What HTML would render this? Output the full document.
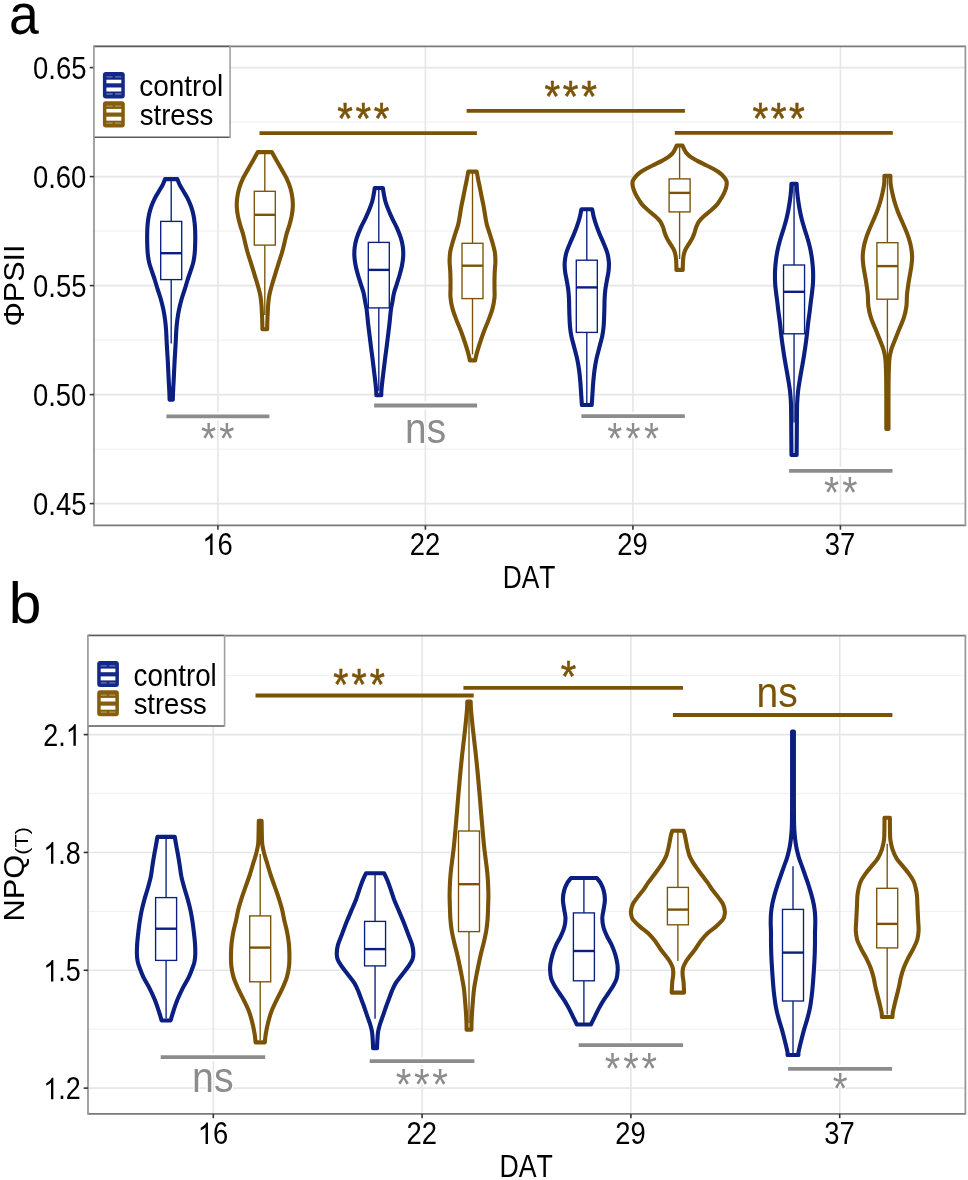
<!DOCTYPE html>
<html><head><meta charset="utf-8"><title>Violin plots</title>
<style>html,body{margin:0;padding:0;background:#fff;overflow:hidden}svg{display:block;will-change:transform}text{font-family:"Liberation Sans",sans-serif}</style>
</head><body>
<svg width="968" height="1180" viewBox="0 0 968 1180" font-family="Liberation Sans, sans-serif" style="font-kerning:none">
<rect width="968" height="1180" fill="#fff"/>
<line x1="94" y1="122.1" x2="965.4" y2="122.1" stroke="#f2f2f2" stroke-width="1.3"/>
<line x1="94" y1="231.1" x2="965.4" y2="231.1" stroke="#f2f2f2" stroke-width="1.3"/>
<line x1="94" y1="340.1" x2="965.4" y2="340.1" stroke="#f2f2f2" stroke-width="1.3"/>
<line x1="94" y1="449.1" x2="965.4" y2="449.1" stroke="#f2f2f2" stroke-width="1.3"/>
<line x1="94" y1="67.6" x2="965.4" y2="67.6" stroke="#e6e6e6" stroke-width="1.6"/>
<line x1="94" y1="176.6" x2="965.4" y2="176.6" stroke="#e6e6e6" stroke-width="1.6"/>
<line x1="94" y1="285.6" x2="965.4" y2="285.6" stroke="#e6e6e6" stroke-width="1.6"/>
<line x1="94" y1="394.6" x2="965.4" y2="394.6" stroke="#e6e6e6" stroke-width="1.6"/>
<line x1="94" y1="503.6" x2="965.4" y2="503.6" stroke="#e6e6e6" stroke-width="1.6"/>
<line x1="217.9" y1="46.4" x2="217.9" y2="525.4" stroke="#e6e6e6" stroke-width="1.6"/>
<line x1="425.4" y1="46.4" x2="425.4" y2="525.4" stroke="#e6e6e6" stroke-width="1.6"/>
<line x1="632.9" y1="46.4" x2="632.9" y2="525.4" stroke="#e6e6e6" stroke-width="1.6"/>
<line x1="840.4" y1="46.4" x2="840.4" y2="525.4" stroke="#e6e6e6" stroke-width="1.6"/>
<path d="M165.1,179.1 C164.72,180.02 163.85,182.53 162.8,184.6 C161.75,186.67 160.13,189.22 158.8,191.5 C157.47,193.78 156.03,195.83 154.8,198.3 C153.57,200.77 152.35,203.63 151.4,206.3 C150.45,208.97 149.72,211.43 149.1,214.3 C148.48,217.17 148.02,220.45 147.7,223.5 C147.38,226.55 147.28,229.37 147.2,232.6 C147.12,235.83 147.12,239.47 147.2,242.9 C147.28,246.33 147.38,249.95 147.7,253.2 C148.02,256.45 148.38,259.35 149.1,262.4 C149.82,265.45 151.02,268.48 152,271.5 C152.98,274.52 154.07,277.55 155,280.5 C155.93,283.45 156.62,286.03 157.6,289.2 C158.58,292.37 159.93,296.08 160.9,299.5 C161.87,302.92 162.7,306.28 163.4,309.7 C164.1,313.12 164.65,316.57 165.1,320 C165.55,323.43 165.85,326.87 166.1,330.3 C166.35,333.73 166.42,337.17 166.6,340.6 C166.78,344.03 167,347.47 167.2,350.9 C167.4,354.33 167.62,357.77 167.8,361.2 C167.98,364.63 168.13,368.07 168.3,371.5 C168.47,374.93 168.63,378.55 168.8,381.8 C168.97,385.05 169.17,388.03 169.3,391 C169.43,393.97 169.55,398.17 169.6,399.6 L172.8,399.6 C172.85,398.17 172.97,393.97 173.1,391 C173.23,388.03 173.43,385.05 173.6,381.8 C173.77,378.55 173.93,374.93 174.1,371.5 C174.27,368.07 174.42,364.63 174.6,361.2 C174.78,357.77 175,354.33 175.2,350.9 C175.4,347.47 175.62,344.03 175.8,340.6 C175.98,337.17 176.05,333.73 176.3,330.3 C176.55,326.87 176.85,323.43 177.3,320 C177.75,316.57 178.3,313.12 179,309.7 C179.7,306.28 180.53,302.92 181.5,299.5 C182.47,296.08 183.82,292.37 184.8,289.2 C185.78,286.03 186.47,283.45 187.4,280.5 C188.33,277.55 189.42,274.52 190.4,271.5 C191.38,268.48 192.58,265.45 193.3,262.4 C194.02,259.35 194.38,256.45 194.7,253.2 C195.02,249.95 195.12,246.33 195.2,242.9 C195.28,239.47 195.28,235.83 195.2,232.6 C195.12,229.37 195.02,226.55 194.7,223.5 C194.38,220.45 193.92,217.17 193.3,214.3 C192.68,211.43 191.95,208.97 191,206.3 C190.05,203.63 188.83,200.77 187.6,198.3 C186.37,195.83 184.93,193.78 183.6,191.5 C182.27,189.22 180.65,186.67 179.6,184.6 C178.55,182.53 177.68,180.02 177.3,179.1 Z" fill="#fff" stroke="#0a1f80" stroke-width="4.1" stroke-linejoin="round"/>
<path d="M257.8,152.1 C257.07,153.4 255,157.08 253.4,159.9 C251.8,162.72 249.92,165.95 248.2,169 C246.48,172.05 244.62,174.95 243.1,178.2 C241.58,181.45 240.1,185.07 239.1,188.5 C238.1,191.93 237.48,195.75 237.1,198.8 C236.72,201.85 236.67,203.95 236.8,206.8 C236.93,209.65 237.33,212.85 237.9,215.9 C238.47,218.95 239.33,222.05 240.2,225.1 C241.07,228.15 242.25,231.15 243.1,234.2 C243.95,237.25 244.55,240.35 245.3,243.4 C246.05,246.45 246.73,249.45 247.6,252.5 C248.47,255.55 249.53,258.63 250.5,261.7 C251.47,264.77 252.63,268.42 253.4,270.9 C254.17,273.38 254.35,274.12 255.1,276.6 C255.85,279.08 257.05,282.75 257.9,285.8 C258.75,288.85 259.62,291.85 260.2,294.9 C260.78,297.95 261.12,301.05 261.4,304.1 C261.68,307.15 261.75,310.15 261.9,313.2 C262.05,316.25 262.22,319.73 262.3,322.4 C262.38,325.07 262.38,328.07 262.4,329.2 L267.2,329.2 C267.22,328.07 267.22,325.07 267.3,322.4 C267.38,319.73 267.55,316.25 267.7,313.2 C267.85,310.15 267.92,307.15 268.2,304.1 C268.48,301.05 268.82,297.95 269.4,294.9 C269.98,291.85 270.85,288.85 271.7,285.8 C272.55,282.75 273.75,279.08 274.5,276.6 C275.25,274.12 275.43,273.38 276.2,270.9 C276.97,268.42 278.13,264.77 279.1,261.7 C280.07,258.63 281.13,255.55 282,252.5 C282.87,249.45 283.55,246.45 284.3,243.4 C285.05,240.35 285.65,237.25 286.5,234.2 C287.35,231.15 288.53,228.15 289.4,225.1 C290.27,222.05 291.13,218.95 291.7,215.9 C292.27,212.85 292.67,209.65 292.8,206.8 C292.93,203.95 292.88,201.85 292.5,198.8 C292.12,195.75 291.5,191.93 290.5,188.5 C289.5,185.07 288.02,181.45 286.5,178.2 C284.98,174.95 283.12,172.05 281.4,169 C279.68,165.95 277.8,162.72 276.2,159.9 C274.6,157.08 272.53,153.4 271.8,152.1 Z" fill="#fff" stroke="#7a5306" stroke-width="4.1" stroke-linejoin="round"/>
<path d="M374.7,188 C374.57,188.9 374.32,191.15 373.9,193.4 C373.48,195.65 372.97,198.82 372.2,201.5 C371.43,204.18 370.45,206.65 369.3,209.5 C368.15,212.35 366.73,215.55 365.3,218.6 C363.87,221.65 362.13,224.55 360.7,227.8 C359.27,231.05 357.7,234.87 356.7,238.1 C355.7,241.33 355.08,244.15 354.7,247.2 C354.32,250.25 354.25,253.35 354.4,256.4 C354.55,259.45 355.02,262.45 355.6,265.5 C356.18,268.55 357.05,271.65 357.9,274.7 C358.75,277.75 359.75,280.75 360.7,283.8 C361.65,286.85 362.85,289.97 363.6,293 C364.35,296.03 364.68,299.17 365.2,302 C365.72,304.83 366.2,306.28 366.7,310 C367.2,313.72 367.72,320 368.2,324.3 C368.68,328.6 369.13,331.98 369.6,335.8 C370.07,339.62 370.52,343.4 371,347.2 C371.48,351 372.02,354.78 372.5,358.6 C372.98,362.42 373.43,366.28 373.9,370.1 C374.37,373.92 374.92,378.07 375.3,381.5 C375.68,384.93 376.03,388.4 376.2,390.7 C376.37,393 376.28,394.53 376.3,395.3 L381.3,395.3 C381.32,394.53 381.23,393 381.4,390.7 C381.57,388.4 381.92,384.93 382.3,381.5 C382.68,378.07 383.23,373.92 383.7,370.1 C384.17,366.28 384.62,362.42 385.1,358.6 C385.58,354.78 386.12,351 386.6,347.2 C387.08,343.4 387.53,339.62 388,335.8 C388.47,331.98 388.92,328.6 389.4,324.3 C389.88,320 390.4,313.72 390.9,310 C391.4,306.28 391.88,304.83 392.4,302 C392.92,299.17 393.25,296.03 394,293 C394.75,289.97 395.95,286.85 396.9,283.8 C397.85,280.75 398.85,277.75 399.7,274.7 C400.55,271.65 401.42,268.55 402,265.5 C402.58,262.45 403.05,259.45 403.2,256.4 C403.35,253.35 403.28,250.25 402.9,247.2 C402.52,244.15 401.9,241.33 400.9,238.1 C399.9,234.87 398.33,231.05 396.9,227.8 C395.47,224.55 393.73,221.65 392.3,218.6 C390.87,215.55 389.45,212.35 388.3,209.5 C387.15,206.65 386.17,204.18 385.4,201.5 C384.63,198.82 384.12,195.65 383.7,193.4 C383.28,191.15 383.03,188.9 382.9,188 Z" fill="#fff" stroke="#0a1f80" stroke-width="4.1" stroke-linejoin="round"/>
<path d="M468.3,171.6 C468.08,172.78 467.53,175.98 467,178.7 C466.47,181.42 465.72,184.85 465.1,187.9 C464.48,190.95 463.92,193.95 463.3,197 C462.68,200.05 461.97,203.15 461.4,206.2 C460.83,209.25 460.43,212.25 459.9,215.3 C459.37,218.35 458.97,221.45 458.2,224.5 C457.43,227.55 456.25,230.55 455.3,233.6 C454.35,236.65 453.35,239.73 452.5,242.8 C451.65,245.87 450.68,248.88 450.2,252 C449.72,255.12 449.6,258.45 449.6,261.5 C449.6,264.55 450.05,267.32 450.2,270.3 C450.35,273.28 450.45,276.35 450.5,279.4 C450.55,282.45 450.5,285.58 450.5,288.6 C450.5,291.62 450.17,294.17 450.5,297.5 C450.83,300.83 451.5,304.83 452.5,308.6 C453.5,312.37 455.07,316.28 456.5,320.1 C457.93,323.92 459.67,327.68 461.1,331.5 C462.53,335.32 463.97,339.57 465.1,343 C466.23,346.43 467.15,349.43 467.9,352.1 C468.65,354.77 469.28,357.62 469.6,359 C469.92,360.38 469.77,360.17 469.8,360.4 L475.2,360.4 C475.23,360.17 475.08,360.38 475.4,359 C475.72,357.62 476.35,354.77 477.1,352.1 C477.85,349.43 478.77,346.43 479.9,343 C481.03,339.57 482.47,335.32 483.9,331.5 C485.33,327.68 487.07,323.92 488.5,320.1 C489.93,316.28 491.5,312.37 492.5,308.6 C493.5,304.83 494.17,300.83 494.5,297.5 C494.83,294.17 494.5,291.62 494.5,288.6 C494.5,285.58 494.45,282.45 494.5,279.4 C494.55,276.35 494.65,273.28 494.8,270.3 C494.95,267.32 495.4,264.55 495.4,261.5 C495.4,258.45 495.28,255.12 494.8,252 C494.32,248.88 493.35,245.87 492.5,242.8 C491.65,239.73 490.65,236.65 489.7,233.6 C488.75,230.55 487.57,227.55 486.8,224.5 C486.03,221.45 485.63,218.35 485.1,215.3 C484.57,212.25 484.17,209.25 483.6,206.2 C483.03,203.15 482.32,200.05 481.7,197 C481.08,193.95 480.52,190.95 479.9,187.9 C479.28,184.85 478.53,181.42 478,178.7 C477.47,175.98 476.92,172.78 476.7,171.6 Z" fill="#fff" stroke="#7a5306" stroke-width="4.1" stroke-linejoin="round"/>
<path d="M581.4,209.3 C581.15,210.53 580.62,213.93 579.9,216.7 C579.18,219.47 578.15,222.85 577.1,225.9 C576.05,228.95 574.85,231.95 573.6,235 C572.35,238.05 570.83,241.15 569.6,244.2 C568.37,247.25 567.02,250.25 566.2,253.3 C565.38,256.35 564.88,259.45 564.7,262.5 C564.52,265.55 564.75,268.55 565.1,271.6 C565.45,274.65 566.27,277.73 566.8,280.8 C567.33,283.87 567.93,286.95 568.3,290 C568.67,293.05 568.85,296.05 569,299.1 C569.15,302.15 569.12,305.25 569.2,308.3 C569.28,311.35 569.37,314.35 569.5,317.4 C569.63,320.45 569.7,323.53 570,326.6 C570.3,329.67 570.6,332.37 571.3,335.8 C572,339.23 573.23,343.4 574.2,347.2 C575.17,351 576.28,354.78 577.1,358.6 C577.92,362.42 578.57,366.28 579.1,370.1 C579.63,373.92 579.97,377.68 580.3,381.5 C580.63,385.32 580.87,389.57 581.1,393 C581.33,396.43 581.57,400.1 581.7,402.1 C581.83,404.1 581.87,404.52 581.9,405 L591.7,405 C591.73,404.52 591.77,404.1 591.9,402.1 C592.03,400.1 592.27,396.43 592.5,393 C592.73,389.57 592.97,385.32 593.3,381.5 C593.63,377.68 593.97,373.92 594.5,370.1 C595.03,366.28 595.68,362.42 596.5,358.6 C597.32,354.78 598.43,351 599.4,347.2 C600.37,343.4 601.6,339.23 602.3,335.8 C603,332.37 603.3,329.67 603.6,326.6 C603.9,323.53 603.97,320.45 604.1,317.4 C604.23,314.35 604.32,311.35 604.4,308.3 C604.48,305.25 604.45,302.15 604.6,299.1 C604.75,296.05 604.93,293.05 605.3,290 C605.67,286.95 606.27,283.87 606.8,280.8 C607.33,277.73 608.15,274.65 608.5,271.6 C608.85,268.55 609.08,265.55 608.9,262.5 C608.72,259.45 608.22,256.35 607.4,253.3 C606.58,250.25 605.23,247.25 604,244.2 C602.77,241.15 601.25,238.05 600,235 C598.75,231.95 597.55,228.95 596.5,225.9 C595.45,222.85 594.42,219.47 593.7,216.7 C592.98,213.93 592.45,210.53 592.2,209.3 Z" fill="#fff" stroke="#0a1f80" stroke-width="4.1" stroke-linejoin="round"/>
<path d="M676.7,145.5 C676.42,146.12 675.67,147.92 675,149.2 C674.33,150.48 673.83,151.87 672.7,153.2 C671.57,154.53 669.92,155.97 668.2,157.2 C666.48,158.43 664.7,159.37 662.4,160.6 C660.1,161.83 656.87,163.37 654.4,164.6 C651.93,165.83 649.88,166.77 647.6,168 C645.32,169.23 642.7,170.57 640.7,172 C638.7,173.43 636.93,175.07 635.6,176.6 C634.27,178.13 633.18,179.67 632.7,181.2 C632.22,182.73 632.42,184.08 632.7,185.8 C632.98,187.52 633.63,189.6 634.4,191.5 C635.17,193.4 636.07,195.1 637.3,197.2 C638.53,199.3 640.08,202 641.8,204.1 C643.52,206.2 645.5,207.9 647.6,209.8 C649.7,211.7 652.32,213.6 654.4,215.5 C656.48,217.4 658.67,219.28 660.1,221.2 C661.53,223.12 662.23,225.08 663,227 C663.77,228.92 664.03,230.8 664.7,232.7 C665.37,234.6 666.05,236.5 667,238.4 C667.95,240.3 669.25,242.2 670.4,244.1 C671.55,246 673.03,247.88 673.9,249.8 C674.77,251.72 675.22,253.68 675.6,255.6 C675.98,257.52 676.07,259.4 676.2,261.3 C676.33,263.2 676.37,265.57 676.4,267 C676.43,268.43 676.4,269.42 676.4,269.9 L682.8,269.9 C682.8,269.42 682.77,268.43 682.8,267 C682.83,265.57 682.87,263.2 683,261.3 C683.13,259.4 683.22,257.52 683.6,255.6 C683.98,253.68 684.43,251.72 685.3,249.8 C686.17,247.88 687.65,246 688.8,244.1 C689.95,242.2 691.25,240.3 692.2,238.4 C693.15,236.5 693.83,234.6 694.5,232.7 C695.17,230.8 695.43,228.92 696.2,227 C696.97,225.08 697.67,223.12 699.1,221.2 C700.53,219.28 702.72,217.4 704.8,215.5 C706.88,213.6 709.5,211.7 711.6,209.8 C713.7,207.9 715.68,206.2 717.4,204.1 C719.12,202 720.67,199.3 721.9,197.2 C723.13,195.1 724.03,193.4 724.8,191.5 C725.57,189.6 726.22,187.52 726.5,185.8 C726.78,184.08 726.98,182.73 726.5,181.2 C726.02,179.67 724.93,178.13 723.6,176.6 C722.27,175.07 720.5,173.43 718.5,172 C716.5,170.57 713.88,169.23 711.6,168 C709.32,166.77 707.27,165.83 704.8,164.6 C702.33,163.37 699.1,161.83 696.8,160.6 C694.5,159.37 692.72,158.43 691,157.2 C689.28,155.97 687.63,154.53 686.5,153.2 C685.37,151.87 684.87,150.48 684.2,149.2 C683.53,147.92 682.78,146.12 682.5,145.5 Z" fill="#fff" stroke="#7a5306" stroke-width="4.1" stroke-linejoin="round"/>
<path d="M791.45,183.7 C791.37,185.03 791.22,188.83 790.95,191.7 C790.68,194.57 790.28,197.85 789.85,200.9 C789.42,203.95 788.93,206.95 788.35,210 C787.77,213.05 787.12,216.15 786.35,219.2 C785.58,222.25 784.67,225.25 783.75,228.3 C782.83,231.35 781.75,234.45 780.85,237.5 C779.95,240.55 779.07,243.55 778.35,246.6 C777.63,249.65 777.03,252.73 776.55,255.8 C776.07,258.87 775.72,261.95 775.45,265 C775.18,268.05 775,271.05 774.95,274.1 C774.9,277.15 774.97,280.25 775.15,283.3 C775.33,286.35 775.7,289.35 776.05,292.4 C776.4,295.45 776.87,298.5 777.25,301.6 C777.63,304.7 777.9,307.45 778.35,311 C778.8,314.55 779.48,319.02 779.95,322.9 C780.42,326.78 780.7,330.48 781.15,334.3 C781.6,338.12 782.12,341.98 782.65,345.8 C783.18,349.62 783.73,353.4 784.35,357.2 C784.97,361 785.68,364.78 786.35,368.6 C787.02,372.42 787.73,376.28 788.35,380.1 C788.97,383.92 789.62,387.68 790.05,391.5 C790.48,395.32 790.77,399.18 790.95,403 C791.13,406.82 791.1,410.58 791.15,414.4 C791.2,418.22 791.22,421.63 791.25,425.9 C791.28,430.17 791.32,435.57 791.35,440 C791.38,444.43 791.43,450 791.45,452.5 C791.47,455 791.45,454.58 791.45,455 L796.65,455 C796.65,454.58 796.63,455 796.65,452.5 C796.67,450 796.72,444.43 796.75,440 C796.78,435.57 796.82,430.17 796.85,425.9 C796.88,421.63 796.9,418.22 796.95,414.4 C797,410.58 796.97,406.82 797.15,403 C797.33,399.18 797.62,395.32 798.05,391.5 C798.48,387.68 799.13,383.92 799.75,380.1 C800.37,376.28 801.08,372.42 801.75,368.6 C802.42,364.78 803.13,361 803.75,357.2 C804.37,353.4 804.92,349.62 805.45,345.8 C805.98,341.98 806.5,338.12 806.95,334.3 C807.4,330.48 807.68,326.78 808.15,322.9 C808.62,319.02 809.3,314.55 809.75,311 C810.2,307.45 810.47,304.7 810.85,301.6 C811.23,298.5 811.7,295.45 812.05,292.4 C812.4,289.35 812.77,286.35 812.95,283.3 C813.13,280.25 813.2,277.15 813.15,274.1 C813.1,271.05 812.92,268.05 812.65,265 C812.38,261.95 812.03,258.87 811.55,255.8 C811.07,252.73 810.47,249.65 809.75,246.6 C809.03,243.55 808.15,240.55 807.25,237.5 C806.35,234.45 805.27,231.35 804.35,228.3 C803.43,225.25 802.52,222.25 801.75,219.2 C800.98,216.15 800.33,213.05 799.75,210 C799.17,206.95 798.68,203.95 798.25,200.9 C797.82,197.85 797.42,194.57 797.15,191.7 C796.88,188.83 796.73,185.03 796.65,183.7 Z" fill="#fff" stroke="#0a1f80" stroke-width="4.1" stroke-linejoin="round"/>
<path d="M884.4,175.9 C884.37,177.2 884.52,180.87 884.2,183.7 C883.88,186.53 883.17,189.85 882.5,192.9 C881.83,195.95 881.1,198.95 880.2,202 C879.3,205.05 878.25,208.15 877.1,211.2 C875.95,214.25 874.6,217.25 873.3,220.3 C872,223.35 870.53,226.45 869.3,229.5 C868.07,232.55 866.85,235.55 865.9,238.6 C864.95,241.65 864.13,244.73 863.6,247.8 C863.07,250.87 862.73,253.95 862.7,257 C862.67,260.05 863.02,263.05 863.4,266.1 C863.78,269.15 864.48,272.25 865,275.3 C865.52,278.35 866.03,281.2 866.5,284.4 C866.97,287.6 867.48,290.83 867.8,294.5 C868.12,298.17 867.87,302.5 868.4,306.4 C868.93,310.3 869.8,314.08 871,317.9 C872.2,321.72 874.07,325.48 875.6,329.3 C877.13,333.12 878.87,337.37 880.2,340.8 C881.53,344.23 882.73,346.85 883.6,349.9 C884.47,352.95 884.98,354.9 885.4,359.1 C885.82,363.3 885.95,368.62 886.1,375.1 C886.25,381.58 886.27,390.37 886.3,398 C886.33,405.63 886.3,415.73 886.3,420.9 C886.3,426.07 886.3,427.65 886.3,429 L888.5,429 C888.5,427.65 888.5,426.07 888.5,420.9 C888.5,415.73 888.47,405.63 888.5,398 C888.53,390.37 888.55,381.58 888.7,375.1 C888.85,368.62 888.98,363.3 889.4,359.1 C889.82,354.9 890.33,352.95 891.2,349.9 C892.07,346.85 893.27,344.23 894.6,340.8 C895.93,337.37 897.67,333.12 899.2,329.3 C900.73,325.48 902.6,321.72 903.8,317.9 C905,314.08 905.87,310.3 906.4,306.4 C906.93,302.5 906.68,298.17 907,294.5 C907.32,290.83 907.83,287.6 908.3,284.4 C908.77,281.2 909.28,278.35 909.8,275.3 C910.32,272.25 911.02,269.15 911.4,266.1 C911.78,263.05 912.13,260.05 912.1,257 C912.07,253.95 911.73,250.87 911.2,247.8 C910.67,244.73 909.85,241.65 908.9,238.6 C907.95,235.55 906.73,232.55 905.5,229.5 C904.27,226.45 902.8,223.35 901.5,220.3 C900.2,217.25 898.85,214.25 897.7,211.2 C896.55,208.15 895.5,205.05 894.6,202 C893.7,198.95 892.97,195.95 892.3,192.9 C891.63,189.85 890.92,186.53 890.6,183.7 C890.28,180.87 890.43,177.2 890.4,175.9 Z" fill="#fff" stroke="#7a5306" stroke-width="4.1" stroke-linejoin="round"/>
<line x1="171.2" y1="179.1" x2="171.2" y2="221.4" stroke="#0a1f80" stroke-width="1.35"/>
<line x1="171.2" y1="279.6" x2="171.2" y2="343.5" stroke="#0a1f80" stroke-width="1.35"/>
<rect x="160.7" y="221.4" width="21" height="58.2" fill="#fff" stroke="#0a1f80" stroke-width="1.35"/>
<line x1="160.7" y1="253.2" x2="181.7" y2="253.2" stroke="#0a1f80" stroke-width="2.4"/>
<line x1="264.8" y1="152.1" x2="264.8" y2="191.3" stroke="#7a5306" stroke-width="1.35"/>
<line x1="264.8" y1="245.1" x2="264.8" y2="315" stroke="#7a5306" stroke-width="1.35"/>
<rect x="254.3" y="191.3" width="21" height="53.8" fill="#fff" stroke="#7a5306" stroke-width="1.35"/>
<line x1="254.3" y1="214.8" x2="275.3" y2="214.8" stroke="#7a5306" stroke-width="2.4"/>
<line x1="378.8" y1="188" x2="378.8" y2="242.4" stroke="#0a1f80" stroke-width="1.35"/>
<line x1="378.8" y1="307.9" x2="378.8" y2="390.7" stroke="#0a1f80" stroke-width="1.35"/>
<rect x="368.3" y="242.4" width="21" height="65.5" fill="#fff" stroke="#0a1f80" stroke-width="1.35"/>
<line x1="368.3" y1="269.9" x2="389.3" y2="269.9" stroke="#0a1f80" stroke-width="2.4"/>
<line x1="472.5" y1="171.6" x2="472.5" y2="243.3" stroke="#7a5306" stroke-width="1.35"/>
<line x1="472.5" y1="298.6" x2="472.5" y2="354.4" stroke="#7a5306" stroke-width="1.35"/>
<rect x="462" y="243.3" width="21" height="55.3" fill="#fff" stroke="#7a5306" stroke-width="1.35"/>
<line x1="462" y1="265.7" x2="483" y2="265.7" stroke="#7a5306" stroke-width="2.4"/>
<line x1="586.8" y1="209.3" x2="586.8" y2="260.2" stroke="#0a1f80" stroke-width="1.35"/>
<line x1="586.8" y1="332.4" x2="586.8" y2="403.3" stroke="#0a1f80" stroke-width="1.35"/>
<rect x="576.3" y="260.2" width="21" height="72.2" fill="#fff" stroke="#0a1f80" stroke-width="1.35"/>
<line x1="576.3" y1="287.4" x2="597.3" y2="287.4" stroke="#0a1f80" stroke-width="2.4"/>
<line x1="679.6" y1="145.5" x2="679.6" y2="178.9" stroke="#7a5306" stroke-width="1.35"/>
<line x1="679.6" y1="211.9" x2="679.6" y2="259" stroke="#7a5306" stroke-width="1.35"/>
<rect x="669.1" y="178.9" width="21" height="33" fill="#fff" stroke="#7a5306" stroke-width="1.35"/>
<line x1="669.1" y1="192.9" x2="690.1" y2="192.9" stroke="#7a5306" stroke-width="2.4"/>
<line x1="794.05" y1="183.7" x2="794.05" y2="265" stroke="#0a1f80" stroke-width="1.35"/>
<line x1="794.05" y1="333.8" x2="794.05" y2="422.4" stroke="#0a1f80" stroke-width="1.35"/>
<rect x="783.55" y="265" width="21" height="68.8" fill="#fff" stroke="#0a1f80" stroke-width="1.35"/>
<line x1="783.55" y1="291.8" x2="804.55" y2="291.8" stroke="#0a1f80" stroke-width="2.4"/>
<line x1="887.4" y1="175.9" x2="887.4" y2="242.7" stroke="#7a5306" stroke-width="1.35"/>
<line x1="887.4" y1="299.2" x2="887.4" y2="428" stroke="#7a5306" stroke-width="1.35"/>
<rect x="876.9" y="242.7" width="21" height="56.5" fill="#fff" stroke="#7a5306" stroke-width="1.35"/>
<line x1="876.9" y1="266.1" x2="897.9" y2="266.1" stroke="#7a5306" stroke-width="2.4"/>
<line x1="164.4" y1="416.4" x2="271.4" y2="416.4" stroke="#fff" stroke-width="8"/>
<line x1="372.1" y1="405.5" x2="479.1" y2="405.5" stroke="#fff" stroke-width="8"/>
<line x1="579.4" y1="416.2" x2="686.8" y2="416.2" stroke="#fff" stroke-width="8"/>
<line x1="787.1" y1="470.8" x2="894.5" y2="470.8" stroke="#fff" stroke-width="8"/>
<line x1="259.5" y1="133.2" x2="476.9" y2="133.2" stroke="#7a5306" stroke-width="3.8"/>
<line x1="466.6" y1="110.8" x2="684.9" y2="110.8" stroke="#7a5306" stroke-width="3.8"/>
<line x1="674.8" y1="132.8" x2="892.8" y2="132.8" stroke="#7a5306" stroke-width="3.8"/>
<line x1="166.4" y1="416.4" x2="269.4" y2="416.4" stroke="#8c8c8c" stroke-width="3.8"/>
<line x1="374.1" y1="405.5" x2="477.1" y2="405.5" stroke="#8c8c8c" stroke-width="3.8"/>
<line x1="581.4" y1="416.2" x2="684.8" y2="416.2" stroke="#8c8c8c" stroke-width="3.8"/>
<line x1="789.1" y1="470.8" x2="892.5" y2="470.8" stroke="#8c8c8c" stroke-width="3.8"/>
<path d="M94,46.4H965.4M94,525.4H965.4" stroke="#7a7a7a" stroke-width="1.6"/>
<path d="M94,45.6V526.1999999999999M965.4,45.6V526.1999999999999" stroke="#999" stroke-width="1.8"/>
<line x1="89.7" y1="67.6" x2="94" y2="67.6" stroke="#333" stroke-width="1.6"/>
<line x1="89.7" y1="176.6" x2="94" y2="176.6" stroke="#333" stroke-width="1.6"/>
<line x1="89.7" y1="285.6" x2="94" y2="285.6" stroke="#333" stroke-width="1.6"/>
<line x1="89.7" y1="394.6" x2="94" y2="394.6" stroke="#333" stroke-width="1.6"/>
<line x1="89.7" y1="503.6" x2="94" y2="503.6" stroke="#333" stroke-width="1.6"/>
<line x1="217.9" y1="525.4" x2="217.9" y2="529.6999999999999" stroke="#333" stroke-width="1.6"/>
<line x1="425.4" y1="525.4" x2="425.4" y2="529.6999999999999" stroke="#333" stroke-width="1.6"/>
<line x1="632.9" y1="525.4" x2="632.9" y2="529.6999999999999" stroke="#333" stroke-width="1.6"/>
<line x1="840.4" y1="525.4" x2="840.4" y2="529.6999999999999" stroke="#333" stroke-width="1.6"/>
<line x1="88" y1="675.68" x2="965.4" y2="675.68" stroke="#f2f2f2" stroke-width="1.3"/>
<line x1="88" y1="793.52" x2="965.4" y2="793.52" stroke="#f2f2f2" stroke-width="1.3"/>
<line x1="88" y1="911.36" x2="965.4" y2="911.36" stroke="#f2f2f2" stroke-width="1.3"/>
<line x1="88" y1="1029.2" x2="965.4" y2="1029.2" stroke="#f2f2f2" stroke-width="1.3"/>
<line x1="88" y1="734.6" x2="965.4" y2="734.6" stroke="#e6e6e6" stroke-width="1.6"/>
<line x1="88" y1="852.44" x2="965.4" y2="852.44" stroke="#e6e6e6" stroke-width="1.6"/>
<line x1="88" y1="970.28" x2="965.4" y2="970.28" stroke="#e6e6e6" stroke-width="1.6"/>
<line x1="88" y1="1088.12" x2="965.4" y2="1088.12" stroke="#e6e6e6" stroke-width="1.6"/>
<line x1="213.3" y1="635.6" x2="213.3" y2="1113.9" stroke="#e6e6e6" stroke-width="1.6"/>
<line x1="422.1" y1="635.6" x2="422.1" y2="1113.9" stroke="#e6e6e6" stroke-width="1.6"/>
<line x1="630.9" y1="635.6" x2="630.9" y2="1113.9" stroke="#e6e6e6" stroke-width="1.6"/>
<line x1="839.7" y1="635.6" x2="839.7" y2="1113.9" stroke="#e6e6e6" stroke-width="1.6"/>
<path d="M157.4,836.9 C157.17,838.28 156.52,842.3 156,845.2 C155.48,848.1 154.87,851.07 154.3,854.3 C153.73,857.53 153.17,860.97 152.6,864.6 C152.03,868.23 151.67,872.28 150.9,876.1 C150.13,879.92 149.05,883.7 148,887.5 C146.95,891.3 145.65,895.08 144.6,898.9 C143.55,902.72 142.5,906.72 141.7,910.4 C140.9,914.08 140.37,917.32 139.8,921 C139.23,924.68 138.73,928.75 138.3,932.5 C137.87,936.25 137.43,939.92 137.2,943.5 C136.97,947.08 136.83,951.08 136.9,954 C136.97,956.92 137.27,959.03 137.6,961 C137.93,962.97 137.93,963.1 138.9,965.8 C139.87,968.5 141.6,973.4 143.4,977.2 C145.2,981 147.78,984.78 149.7,988.6 C151.62,992.42 153.37,996.28 154.9,1000.1 C156.43,1003.92 157.78,1008.1 158.9,1011.5 C160.02,1014.9 161.15,1019 161.6,1020.5 L170.6,1020.5 C171.05,1019 172.18,1014.9 173.3,1011.5 C174.42,1008.1 175.77,1003.92 177.3,1000.1 C178.83,996.28 180.58,992.42 182.5,988.6 C184.42,984.78 187,981 188.8,977.2 C190.6,973.4 192.33,968.5 193.3,965.8 C194.27,963.1 194.27,962.97 194.6,961 C194.93,959.03 195.23,956.92 195.3,954 C195.37,951.08 195.23,947.08 195,943.5 C194.77,939.92 194.33,936.25 193.9,932.5 C193.47,928.75 192.97,924.68 192.4,921 C191.83,917.32 191.3,914.08 190.5,910.4 C189.7,906.72 188.65,902.72 187.6,898.9 C186.55,895.08 185.25,891.3 184.2,887.5 C183.15,883.7 182.07,879.92 181.3,876.1 C180.53,872.28 180.17,868.23 179.6,864.6 C179.03,860.97 178.47,857.53 177.9,854.3 C177.33,851.07 176.72,848.1 176.2,845.2 C175.68,842.3 175.03,838.28 174.8,836.9 Z" fill="#fff" stroke="#0a1f80" stroke-width="4.1" stroke-linejoin="round"/>
<path d="M258.8,820.7 C258.77,822.62 258.7,828.38 258.6,832.2 C258.5,836.02 258.57,840.17 258.2,843.6 C257.83,847.03 257.22,849.57 256.4,852.8 C255.58,856.03 254.38,859.38 253.3,863 C252.22,866.62 251.13,870.68 249.9,874.5 C248.67,878.32 247.23,882.08 245.9,885.9 C244.57,889.72 243.13,893.58 241.9,897.4 C240.67,901.22 239.47,905 238.5,908.8 C237.53,912.6 236.95,916.4 236.1,920.2 C235.25,924 234.15,927.8 233.4,931.6 C232.65,935.4 232,939.22 231.6,943 C231.2,946.78 231.05,950.5 231,954.3 C230.95,958.1 230.88,961.98 231.3,965.8 C231.72,969.62 232.37,973.4 233.5,977.2 C234.63,981 236.38,984.78 238.1,988.6 C239.82,992.42 241.98,996.28 243.8,1000.1 C245.62,1003.92 247.57,1007.68 249,1011.5 C250.43,1015.32 251.45,1019.18 252.4,1023 C253.35,1026.82 254.17,1031.17 254.7,1034.4 C255.23,1037.63 255.45,1041.07 255.6,1042.4 L264.8,1042.4 C264.95,1041.07 265.17,1037.63 265.7,1034.4 C266.23,1031.17 267.05,1026.82 268,1023 C268.95,1019.18 269.97,1015.32 271.4,1011.5 C272.83,1007.68 274.78,1003.92 276.6,1000.1 C278.42,996.28 280.58,992.42 282.3,988.6 C284.02,984.78 285.77,981 286.9,977.2 C288.03,973.4 288.68,969.62 289.1,965.8 C289.52,961.98 289.45,958.1 289.4,954.3 C289.35,950.5 289.2,946.78 288.8,943 C288.4,939.22 287.75,935.4 287,931.6 C286.25,927.8 285.15,924 284.3,920.2 C283.45,916.4 282.87,912.6 281.9,908.8 C280.93,905 279.73,901.22 278.5,897.4 C277.27,893.58 275.83,889.72 274.5,885.9 C273.17,882.08 271.73,878.32 270.5,874.5 C269.27,870.68 268.18,866.62 267.1,863 C266.02,859.38 264.82,856.03 264,852.8 C263.18,849.57 262.57,847.03 262.2,843.6 C261.83,840.17 261.9,836.02 261.8,832.2 C261.7,828.38 261.63,822.62 261.6,820.7 Z" fill="#fff" stroke="#7a5306" stroke-width="4.1" stroke-linejoin="round"/>
<path d="M365.96,873.3 C365.41,874.5 363.83,877.58 362.66,880.5 C361.49,883.42 360.04,887.68 358.96,890.8 C357.88,893.92 357.41,895.93 356.16,899.2 C354.91,902.47 353.03,906.67 351.46,910.4 C349.89,914.13 348.31,917.72 346.76,921.6 C345.21,925.48 343.63,929.82 342.16,933.7 C340.69,937.58 338.86,941.63 337.96,944.9 C337.06,948.17 336.81,950.87 336.76,953.3 C336.71,955.73 336.88,957.38 337.66,959.5 C338.44,961.62 339.63,963.35 341.46,966 C343.29,968.65 346.53,972.58 348.66,975.4 C350.79,978.22 352.71,980.4 354.26,982.9 C355.81,985.4 356.88,987.92 357.96,990.4 C359.04,992.88 359.83,995.32 360.76,997.8 C361.69,1000.28 362.56,1002.5 363.56,1005.3 C364.56,1008.1 365.68,1011.48 366.76,1014.6 C367.84,1017.72 369.19,1021.2 370.06,1024 C370.93,1026.8 371.53,1028.92 371.96,1031.4 C372.39,1033.88 372.48,1036.42 372.66,1038.9 C372.84,1041.38 372.99,1044.75 373.06,1046.3 C373.13,1047.85 373.06,1047.88 373.06,1048.2 L377.06,1048.2 C377.06,1047.88 376.99,1047.85 377.06,1046.3 C377.13,1044.75 377.28,1041.38 377.46,1038.9 C377.64,1036.42 377.73,1033.88 378.16,1031.4 C378.59,1028.92 379.19,1026.8 380.06,1024 C380.93,1021.2 382.28,1017.72 383.36,1014.6 C384.44,1011.48 385.56,1008.1 386.56,1005.3 C387.56,1002.5 388.43,1000.28 389.36,997.8 C390.29,995.32 391.08,992.88 392.16,990.4 C393.24,987.92 394.31,985.4 395.86,982.9 C397.41,980.4 399.33,978.22 401.46,975.4 C403.59,972.58 406.83,968.65 408.66,966 C410.49,963.35 411.68,961.62 412.46,959.5 C413.24,957.38 413.41,955.73 413.36,953.3 C413.31,950.87 413.06,948.17 412.16,944.9 C411.26,941.63 409.43,937.58 407.96,933.7 C406.49,929.82 404.91,925.48 403.36,921.6 C401.81,917.72 400.23,914.13 398.66,910.4 C397.09,906.67 395.21,902.47 393.96,899.2 C392.71,895.93 392.24,893.92 391.16,890.8 C390.08,887.68 388.63,883.42 387.46,880.5 C386.29,877.58 384.71,874.5 384.16,873.3 Z" fill="#fff" stroke="#0a1f80" stroke-width="4.1" stroke-linejoin="round"/>
<path d="M467.3,701.5 C467.25,702.82 467.4,704.48 467,709.4 C466.6,714.32 465.67,723.8 464.9,731 C464.13,738.2 463.18,745.38 462.4,752.6 C461.62,759.82 460.88,767.08 460.2,774.3 C459.52,781.52 458.92,788.7 458.3,795.9 C457.68,803.1 457.12,810.3 456.5,817.5 C455.88,824.7 455.1,833.68 454.6,839.1 C454.1,844.52 453.92,846.35 453.5,850 C453.08,853.65 452.57,857.18 452.1,861 C451.63,864.82 451.07,869.02 450.7,872.9 C450.33,876.78 450.08,880.48 449.9,884.3 C449.72,888.12 449.6,891.98 449.6,895.8 C449.6,899.62 449.77,903.33 449.9,907.2 C450.03,911.07 450.1,915.12 450.4,919 C450.7,922.88 451.08,926.67 451.7,930.5 C452.32,934.33 453.22,938.17 454.1,942 C454.98,945.83 456.1,949.67 457,953.5 C457.9,957.33 458.7,961.17 459.5,965 C460.3,968.83 461.07,972.57 461.8,976.5 C462.53,980.43 463.37,984.67 463.9,988.6 C464.43,992.53 464.67,996.28 465,1000.1 C465.33,1003.92 465.65,1007.68 465.9,1011.5 C466.15,1015.32 466.38,1019.95 466.5,1023 C466.62,1026.05 466.58,1028.67 466.6,1029.8 L471.4,1029.8 C471.42,1028.67 471.38,1026.05 471.5,1023 C471.62,1019.95 471.85,1015.32 472.1,1011.5 C472.35,1007.68 472.67,1003.92 473,1000.1 C473.33,996.28 473.57,992.53 474.1,988.6 C474.63,984.67 475.47,980.43 476.2,976.5 C476.93,972.57 477.7,968.83 478.5,965 C479.3,961.17 480.1,957.33 481,953.5 C481.9,949.67 483.02,945.83 483.9,942 C484.78,938.17 485.68,934.33 486.3,930.5 C486.92,926.67 487.3,922.88 487.6,919 C487.9,915.12 487.97,911.07 488.1,907.2 C488.23,903.33 488.4,899.62 488.4,895.8 C488.4,891.98 488.28,888.12 488.1,884.3 C487.92,880.48 487.67,876.78 487.3,872.9 C486.93,869.02 486.37,864.82 485.9,861 C485.43,857.18 484.92,853.65 484.5,850 C484.08,846.35 483.9,844.52 483.4,839.1 C482.9,833.68 482.12,824.7 481.5,817.5 C480.88,810.3 480.32,803.1 479.7,795.9 C479.08,788.7 478.48,781.52 477.8,774.3 C477.12,767.08 476.38,759.82 475.6,752.6 C474.82,745.38 473.87,738.2 473.1,731 C472.33,723.8 471.4,714.32 471,709.4 C470.6,704.48 470.75,702.82 470.7,701.5 Z" fill="#fff" stroke="#7a5306" stroke-width="4.1" stroke-linejoin="round"/>
<path d="M571,878 C570.42,878.77 568.65,880.5 567.5,882.6 C566.35,884.7 564.87,887.75 564.1,890.6 C563.33,893.45 562.9,896.65 562.9,899.7 C562.9,902.75 563.67,905.83 564.1,908.9 C564.53,911.97 565.47,915.05 565.5,918.1 C565.53,921.15 565.1,924.15 564.3,927.2 C563.5,930.25 562.1,933.35 560.7,936.4 C559.3,939.45 557.27,942.45 555.9,945.5 C554.53,948.55 553.4,951.7 552.5,954.7 C551.6,957.7 550.9,960.95 550.5,963.5 C550.1,966.05 549.98,967.48 550.1,970 C550.22,972.52 550.43,975.93 551.2,978.6 C551.97,981.27 553.3,983.52 554.7,986 C556.1,988.48 557.95,991.02 559.6,993.5 C561.25,995.98 563.05,998.42 564.6,1000.9 C566.15,1003.38 567.57,1005.92 568.9,1008.4 C570.23,1010.88 571.47,1013.53 572.6,1015.8 C573.73,1018.07 575,1020.55 575.7,1022 C576.4,1023.45 576.62,1024.08 576.8,1024.5 L591,1024.5 C591.18,1024.08 591.4,1023.45 592.1,1022 C592.8,1020.55 594.07,1018.07 595.2,1015.8 C596.33,1013.53 597.57,1010.88 598.9,1008.4 C600.23,1005.92 601.65,1003.38 603.2,1000.9 C604.75,998.42 606.55,995.98 608.2,993.5 C609.85,991.02 611.7,988.48 613.1,986 C614.5,983.52 615.83,981.27 616.6,978.6 C617.37,975.93 617.58,972.52 617.7,970 C617.82,967.48 617.7,966.05 617.3,963.5 C616.9,960.95 616.2,957.7 615.3,954.7 C614.4,951.7 613.27,948.55 611.9,945.5 C610.53,942.45 608.5,939.45 607.1,936.4 C605.7,933.35 604.3,930.25 603.5,927.2 C602.7,924.15 602.27,921.15 602.3,918.1 C602.33,915.05 603.27,911.97 603.7,908.9 C604.13,905.83 604.9,902.75 604.9,899.7 C604.9,896.65 604.47,893.45 603.7,890.6 C602.93,887.75 601.45,884.7 600.3,882.6 C599.15,880.5 597.38,878.77 596.8,878 Z" fill="#fff" stroke="#0a1f80" stroke-width="4.1" stroke-linejoin="round"/>
<path d="M672.3,830.7 C672.1,831.33 671.52,832.77 671.1,834.5 C670.68,836.23 670.23,838.9 669.8,841.1 C669.37,843.3 669.05,845.35 668.5,847.7 C667.95,850.05 667.38,852.83 666.5,855.2 C665.62,857.57 664.58,859.55 663.2,861.9 C661.82,864.25 659.87,866.95 658.2,869.3 C656.53,871.65 654.87,873.78 653.2,876 C651.53,878.22 649.87,880.25 648.2,882.6 C646.53,884.95 645.02,887.6 643.2,890.1 C641.38,892.6 639.03,895.25 637.3,897.6 C635.57,899.95 633.87,901.85 632.8,904.2 C631.73,906.55 631.08,909.57 630.9,911.7 C630.72,913.83 631.3,915.62 631.7,917 C632.1,918.38 631.93,918.4 633.3,920 C634.67,921.6 637.42,924.4 639.9,926.6 C642.38,928.8 645.7,930.85 648.2,933.2 C650.7,935.55 652.95,938.2 654.9,940.7 C656.85,943.2 658.23,945.85 659.9,948.2 C661.57,950.55 663.25,952.58 664.9,954.8 C666.55,957.02 668.48,959.28 669.8,961.5 C671.12,963.72 672.23,965.88 672.8,968.1 C673.37,970.32 673.28,972.58 673.2,974.8 C673.12,977.02 672.52,979.18 672.3,981.4 C672.08,983.62 672,986.23 671.9,988.1 C671.8,989.97 671.73,991.85 671.7,992.6 L684.1,992.6 C684.07,991.85 684,989.97 683.9,988.1 C683.8,986.23 683.72,983.62 683.5,981.4 C683.28,979.18 682.68,977.02 682.6,974.8 C682.52,972.58 682.43,970.32 683,968.1 C683.57,965.88 684.68,963.72 686,961.5 C687.32,959.28 689.25,957.02 690.9,954.8 C692.55,952.58 694.23,950.55 695.9,948.2 C697.57,945.85 698.95,943.2 700.9,940.7 C702.85,938.2 705.1,935.55 707.6,933.2 C710.1,930.85 713.42,928.8 715.9,926.6 C718.38,924.4 721.13,921.6 722.5,920 C723.87,918.4 723.7,918.38 724.1,917 C724.5,915.62 725.08,913.83 724.9,911.7 C724.72,909.57 724.07,906.55 723,904.2 C721.93,901.85 720.23,899.95 718.5,897.6 C716.77,895.25 714.42,892.6 712.6,890.1 C710.78,887.6 709.27,884.95 707.6,882.6 C705.93,880.25 704.27,878.22 702.6,876 C700.93,873.78 699.27,871.65 697.6,869.3 C695.93,866.95 693.98,864.25 692.6,861.9 C691.22,859.55 690.18,857.57 689.3,855.2 C688.42,852.83 687.85,850.05 687.3,847.7 C686.75,845.35 686.43,843.3 686,841.1 C685.57,838.9 685.12,836.23 684.7,834.5 C684.28,832.77 683.7,831.33 683.5,830.7 Z" fill="#fff" stroke="#7a5306" stroke-width="4.1" stroke-linejoin="round"/>
<path d="M792.1,731.5 C792.1,736.25 792.1,748.58 792.1,760 C792.1,771.42 792.12,790 792.1,800 C792.08,810 792.07,815.12 792,820 C791.93,824.88 791.88,826.18 791.7,829.3 C791.52,832.42 791.27,835.58 790.9,838.7 C790.53,841.82 790.12,844.9 789.5,848 C788.88,851.1 788.13,854.2 787.2,857.3 C786.27,860.4 785,863.48 783.9,866.6 C782.8,869.72 781.68,872.88 780.6,876 C779.52,879.12 778.4,882.2 777.4,885.3 C776.4,888.4 775.45,891.48 774.6,894.6 C773.75,897.72 772.9,900.88 772.3,904 C771.7,907.12 771.27,910.2 771,913.3 C770.73,916.4 770.7,919.48 770.7,922.6 C770.7,925.72 770.95,928.93 771,932 C771.05,935.07 770.97,937.67 771,941 C771.03,944.33 771.08,948.33 771.2,952 C771.32,955.67 771.5,959.32 771.7,963 C771.9,966.68 772.15,970.42 772.4,974.1 C772.65,977.78 772.88,981.43 773.2,985.1 C773.52,988.77 773.85,992.43 774.3,996.1 C774.75,999.77 775.2,1003.43 775.9,1007.1 C776.6,1010.77 777.52,1014.43 778.5,1018.1 C779.48,1021.77 780.77,1025.42 781.8,1029.1 C782.83,1032.78 783.78,1036.52 784.7,1040.2 C785.62,1043.88 786.82,1048.73 787.3,1051.2 C787.78,1053.67 787.55,1054.37 787.6,1055 L798.4,1055 C798.45,1054.37 798.22,1053.67 798.7,1051.2 C799.18,1048.73 800.38,1043.88 801.3,1040.2 C802.22,1036.52 803.17,1032.78 804.2,1029.1 C805.23,1025.42 806.52,1021.77 807.5,1018.1 C808.48,1014.43 809.4,1010.77 810.1,1007.1 C810.8,1003.43 811.25,999.77 811.7,996.1 C812.15,992.43 812.48,988.77 812.8,985.1 C813.12,981.43 813.35,977.78 813.6,974.1 C813.85,970.42 814.1,966.68 814.3,963 C814.5,959.32 814.68,955.67 814.8,952 C814.92,948.33 814.97,944.33 815,941 C815.03,937.67 814.95,935.07 815,932 C815.05,928.93 815.3,925.72 815.3,922.6 C815.3,919.48 815.27,916.4 815,913.3 C814.73,910.2 814.3,907.12 813.7,904 C813.1,900.88 812.25,897.72 811.4,894.6 C810.55,891.48 809.6,888.4 808.6,885.3 C807.6,882.2 806.48,879.12 805.4,876 C804.32,872.88 803.2,869.72 802.1,866.6 C801,863.48 799.73,860.4 798.8,857.3 C797.87,854.2 797.12,851.1 796.5,848 C795.88,844.9 795.47,841.82 795.1,838.7 C794.73,835.58 794.48,832.42 794.3,829.3 C794.12,826.18 794.07,824.88 794,820 C793.93,815.12 793.92,810 793.9,800 C793.88,790 793.9,771.42 793.9,760 C793.9,748.58 793.9,736.25 793.9,731.5 Z" fill="#fff" stroke="#0a1f80" stroke-width="4.1" stroke-linejoin="round"/>
<path d="M884.5,817.8 C884.48,819.95 884.48,827 884.4,830.7 C884.32,834.4 884.42,836.9 884,840 C883.58,843.1 882.95,846.2 881.9,849.3 C880.85,852.4 879.42,855.8 877.7,858.6 C875.98,861.4 873.62,863.6 871.6,866.1 C869.58,868.6 867.38,871.12 865.6,873.6 C863.82,876.08 862.07,878.52 860.9,881 C859.73,883.48 859.18,886 858.6,888.5 C858.02,891 857.67,893.2 857.4,896 C857.13,898.8 857.13,902.38 857,905.3 C856.87,908.22 856.73,910.85 856.6,913.5 C856.47,916.15 856.33,918.33 856.2,921.2 C856.07,924.07 855.63,927.57 855.8,930.7 C855.97,933.83 856.27,936.9 857.2,940 C858.13,943.1 859.85,946.2 861.4,949.3 C862.95,952.4 864.95,955.48 866.5,958.6 C868.05,961.72 869.53,964.88 870.7,968 C871.87,971.12 872.72,974.2 873.5,977.3 C874.28,980.4 874.7,983.48 875.4,986.6 C876.1,989.72 876.93,992.88 877.7,996 C878.47,999.12 879.35,1002.52 880,1005.3 C880.65,1008.08 881.28,1010.75 881.6,1012.7 C881.92,1014.65 881.85,1016.28 881.9,1017 L892.5,1017 C892.55,1016.28 892.48,1014.65 892.8,1012.7 C893.12,1010.75 893.75,1008.08 894.4,1005.3 C895.05,1002.52 895.93,999.12 896.7,996 C897.47,992.88 898.3,989.72 899,986.6 C899.7,983.48 900.12,980.4 900.9,977.3 C901.68,974.2 902.53,971.12 903.7,968 C904.87,964.88 906.35,961.72 907.9,958.6 C909.45,955.48 911.45,952.4 913,949.3 C914.55,946.2 916.27,943.1 917.2,940 C918.13,936.9 918.43,933.83 918.6,930.7 C918.77,927.57 918.33,924.07 918.2,921.2 C918.07,918.33 917.93,916.15 917.8,913.5 C917.67,910.85 917.53,908.22 917.4,905.3 C917.27,902.38 917.27,898.8 917,896 C916.73,893.2 916.38,891 915.8,888.5 C915.22,886 914.67,883.48 913.5,881 C912.33,878.52 910.58,876.08 908.8,873.6 C907.02,871.12 904.82,868.6 902.8,866.1 C900.78,863.6 898.42,861.4 896.7,858.6 C894.98,855.8 893.55,852.4 892.5,849.3 C891.45,846.2 890.82,843.1 890.4,840 C889.98,836.9 890.08,834.4 890,830.7 C889.92,827 889.92,819.95 889.9,817.8 Z" fill="#fff" stroke="#7a5306" stroke-width="4.1" stroke-linejoin="round"/>
<line x1="166.1" y1="836.9" x2="166.1" y2="897.6" stroke="#0a1f80" stroke-width="1.35"/>
<line x1="166.1" y1="960.4" x2="166.1" y2="1018.4" stroke="#0a1f80" stroke-width="1.35"/>
<rect x="155.6" y="897.6" width="21" height="62.8" fill="#fff" stroke="#0a1f80" stroke-width="1.35"/>
<line x1="155.6" y1="928.7" x2="176.6" y2="928.7" stroke="#0a1f80" stroke-width="2.4"/>
<line x1="260.2" y1="853.9" x2="260.2" y2="915.9" stroke="#7a5306" stroke-width="1.35"/>
<line x1="260.2" y1="981.8" x2="260.2" y2="1040.1" stroke="#7a5306" stroke-width="1.35"/>
<rect x="249.7" y="915.9" width="21" height="65.9" fill="#fff" stroke="#7a5306" stroke-width="1.35"/>
<line x1="249.7" y1="947.6" x2="270.7" y2="947.6" stroke="#7a5306" stroke-width="2.4"/>
<line x1="375.06" y1="873.3" x2="375.06" y2="921.4" stroke="#0a1f80" stroke-width="1.35"/>
<line x1="375.06" y1="965.9" x2="375.06" y2="1018.8" stroke="#0a1f80" stroke-width="1.35"/>
<rect x="364.56" y="921.4" width="21" height="44.5" fill="#fff" stroke="#0a1f80" stroke-width="1.35"/>
<line x1="364.56" y1="949.1" x2="385.56" y2="949.1" stroke="#0a1f80" stroke-width="2.4"/>
<line x1="469" y1="704.8" x2="469" y2="831" stroke="#7a5306" stroke-width="1.35"/>
<line x1="469" y1="931.6" x2="469" y2="1023" stroke="#7a5306" stroke-width="1.35"/>
<rect x="458.5" y="831" width="21" height="100.6" fill="#fff" stroke="#7a5306" stroke-width="1.35"/>
<line x1="458.5" y1="884.2" x2="479.5" y2="884.2" stroke="#7a5306" stroke-width="2.4"/>
<line x1="583.9" y1="878" x2="583.9" y2="912.9" stroke="#0a1f80" stroke-width="1.35"/>
<line x1="583.9" y1="980.8" x2="583.9" y2="1024" stroke="#0a1f80" stroke-width="1.35"/>
<rect x="573.4" y="912.9" width="21" height="67.9" fill="#fff" stroke="#0a1f80" stroke-width="1.35"/>
<line x1="573.4" y1="951" x2="594.4" y2="951" stroke="#0a1f80" stroke-width="2.4"/>
<line x1="677.9" y1="830.7" x2="677.9" y2="887.4" stroke="#7a5306" stroke-width="1.35"/>
<line x1="677.9" y1="924.8" x2="677.9" y2="961.1" stroke="#7a5306" stroke-width="1.35"/>
<rect x="667.4" y="887.4" width="21" height="37.4" fill="#fff" stroke="#7a5306" stroke-width="1.35"/>
<line x1="667.4" y1="909.6" x2="688.4" y2="909.6" stroke="#7a5306" stroke-width="2.4"/>
<line x1="793" y1="866.2" x2="793" y2="909.4" stroke="#0a1f80" stroke-width="1.35"/>
<line x1="793" y1="1001" x2="793" y2="1053.4" stroke="#0a1f80" stroke-width="1.35"/>
<rect x="782.5" y="909.4" width="21" height="91.6" fill="#fff" stroke="#0a1f80" stroke-width="1.35"/>
<line x1="782.5" y1="952.6" x2="803.5" y2="952.6" stroke="#0a1f80" stroke-width="2.4"/>
<line x1="887.2" y1="843.7" x2="887.2" y2="888.3" stroke="#7a5306" stroke-width="1.35"/>
<line x1="887.2" y1="947.9" x2="887.2" y2="1014.6" stroke="#7a5306" stroke-width="1.35"/>
<rect x="876.7" y="888.3" width="21" height="59.6" fill="#fff" stroke="#7a5306" stroke-width="1.35"/>
<line x1="876.7" y1="923.9" x2="897.7" y2="923.9" stroke="#7a5306" stroke-width="2.4"/>
<line x1="158.7" y1="1057.2" x2="267.2" y2="1057.2" stroke="#fff" stroke-width="8"/>
<line x1="367.7" y1="1061.1" x2="476.4" y2="1061.1" stroke="#fff" stroke-width="8"/>
<line x1="576.7" y1="1045.2" x2="685.1" y2="1045.2" stroke="#fff" stroke-width="8"/>
<line x1="786.1" y1="1068.9" x2="894.1" y2="1068.9" stroke="#fff" stroke-width="8"/>
<line x1="255.5" y1="695.5" x2="473.7" y2="695.5" stroke="#7a5306" stroke-width="3.8"/>
<line x1="463.4" y1="687.8" x2="683" y2="687.8" stroke="#7a5306" stroke-width="3.8"/>
<line x1="672.9" y1="715" x2="892.4" y2="715" stroke="#7a5306" stroke-width="3.8"/>
<line x1="160.7" y1="1057.2" x2="265.2" y2="1057.2" stroke="#8c8c8c" stroke-width="3.8"/>
<line x1="369.7" y1="1061.1" x2="474.4" y2="1061.1" stroke="#8c8c8c" stroke-width="3.8"/>
<line x1="578.7" y1="1045.2" x2="683.1" y2="1045.2" stroke="#8c8c8c" stroke-width="3.8"/>
<line x1="788.1" y1="1068.9" x2="892.1" y2="1068.9" stroke="#8c8c8c" stroke-width="3.8"/>
<path d="M88,635.6H965.4M88,1113.9H965.4" stroke="#7a7a7a" stroke-width="1.6"/>
<path d="M88,634.8000000000001V1114.7M965.4,634.8000000000001V1114.7" stroke="#999" stroke-width="1.8"/>
<line x1="83.7" y1="734.6" x2="88" y2="734.6" stroke="#333" stroke-width="1.6"/>
<line x1="83.7" y1="852.44" x2="88" y2="852.44" stroke="#333" stroke-width="1.6"/>
<line x1="83.7" y1="970.28" x2="88" y2="970.28" stroke="#333" stroke-width="1.6"/>
<line x1="83.7" y1="1088.12" x2="88" y2="1088.12" stroke="#333" stroke-width="1.6"/>
<line x1="213.3" y1="1113.9" x2="213.3" y2="1118.2" stroke="#333" stroke-width="1.6"/>
<line x1="422.1" y1="1113.9" x2="422.1" y2="1118.2" stroke="#333" stroke-width="1.6"/>
<line x1="630.9" y1="1113.9" x2="630.9" y2="1118.2" stroke="#333" stroke-width="1.6"/>
<line x1="839.7" y1="1113.9" x2="839.7" y2="1118.2" stroke="#333" stroke-width="1.6"/>
<rect x="94" y="46.4" width="136.1" height="90.9" fill="#fff"/>
<path d="M94,46.4H230.1M94,137.3H230.1" stroke="#5a5a5a" stroke-width="1.5"/>
<path d="M94,45.699999999999996V138.0M230.1,45.699999999999996V138.0" stroke="#a0a0a0" stroke-width="1.6"/>
<rect x="104.4" y="73.6" width="18.9" height="23.3" rx="1.5" fill="#132888" stroke="#132888" stroke-width="3"/>
<rect x="106.4" y="79.7" width="14.9" height="3.6" fill="#fff"/>
<rect x="106.4" y="87.5" width="14.9" height="4.0" fill="#fff"/>
<path d="M106.4,76.9H112.65M115.05,76.9H121.3" stroke="#fff" stroke-opacity="0.35" stroke-width="1.3"/>
<path d="M106.4,94H112.65M115.05,94H121.3" stroke="#fff" stroke-opacity="0.35" stroke-width="1.3"/>
<rect x="104.4" y="102.8" width="18.9" height="23.3" rx="1.5" fill="#845e0c" stroke="#845e0c" stroke-width="3"/>
<rect x="106.4" y="108.9" width="14.9" height="3.6" fill="#fff"/>
<rect x="106.4" y="116.7" width="14.9" height="4.0" fill="#fff"/>
<path d="M106.4,106.1H112.65M115.05,106.1H121.3" stroke="#fff" stroke-opacity="0.35" stroke-width="1.3"/>
<path d="M106.4,123.2H112.65M115.05,123.2H121.3" stroke="#fff" stroke-opacity="0.35" stroke-width="1.3"/>
<text transform="translate(139.21,95.81) scale(0.9478,1)" font-size="29.55" fill="#000" >control</text>
<text transform="translate(139.63,124.9) scale(0.9380,1)" font-size="29.50" fill="#000" >stress</text>
<rect x="88" y="635.6" width="136.6" height="90.3" fill="#fff"/>
<path d="M88,635.6H224.6M88,725.9H224.6" stroke="#5a5a5a" stroke-width="1.5"/>
<path d="M88,634.9V726.6M224.6,634.9V726.6" stroke="#a0a0a0" stroke-width="1.6"/>
<rect x="98.7" y="662.5" width="18.7" height="23" rx="1.5" fill="#132888" stroke="#132888" stroke-width="3"/>
<rect x="100.7" y="668.6" width="14.7" height="3.6" fill="#fff"/>
<rect x="100.7" y="676.4" width="14.7" height="4.0" fill="#fff"/>
<path d="M100.7,665.8H106.85M109.25,665.8H115.4" stroke="#fff" stroke-opacity="0.35" stroke-width="1.3"/>
<path d="M100.7,682.9H106.85M109.25,682.9H115.4" stroke="#fff" stroke-opacity="0.35" stroke-width="1.3"/>
<rect x="98.7" y="691.8" width="18.7" height="23" rx="1.5" fill="#845e0c" stroke="#845e0c" stroke-width="3"/>
<rect x="100.7" y="697.9" width="14.7" height="3.6" fill="#fff"/>
<rect x="100.7" y="705.7" width="14.7" height="4.0" fill="#fff"/>
<path d="M100.7,695.1H106.85M109.25,695.1H115.4" stroke="#fff" stroke-opacity="0.35" stroke-width="1.3"/>
<path d="M100.7,712.2H106.85M109.25,712.2H115.4" stroke="#fff" stroke-opacity="0.35" stroke-width="1.3"/>
<text transform="translate(133.62,685.5) scale(0.9040,1)" font-size="30.64" fill="#000" >control</text>
<text transform="translate(133.64,714.3) scale(0.9400,1)" font-size="29.20" fill="#000" >stress</text>
<text transform="translate(8.93,33.54) scale(0.9371,1)" font-size="57.13" fill="#000" >a</text>
<text transform="translate(8.82,623.04) scale(1.0289,1)" font-size="57.06" fill="#000" >b</text>
<text transform="translate(32.99,78.6) scale(0.8890,1)" font-size="30.90" fill="#000" >0.65</text>
<text transform="translate(32.91,187.6) scale(0.8890,1)" font-size="30.90" fill="#000" >0.60</text>
<text transform="translate(32.99,296.6) scale(0.8890,1)" font-size="30.90" fill="#000" >0.55</text>
<text transform="translate(32.91,405.6) scale(0.8890,1)" font-size="30.90" fill="#000" >0.50</text>
<text transform="translate(32.99,514.6) scale(0.8890,1)" font-size="30.90" fill="#000" >0.45</text>
<path transform="translate(65.78,745.8) scale(0.01314,-0.01463)" d="M763,0L583,0L583,1147Q518,1085 412,1023Q306,961 222,930L222,1104Q373,1175 486,1276Q599,1377 646,1472L763,1472Z" fill="#000"/>
<text transform="translate(43.33,745.8) scale(0.8600,1)" font-size="31.30" fill="#000" >2. </text>
<path transform="translate(43.33,863.64) scale(0.01314,-0.01463)" d="M763,0L583,0L583,1147Q518,1085 412,1023Q306,961 222,930L222,1104Q373,1175 486,1276Q599,1377 646,1472L763,1472Z" fill="#000"/>
<text transform="translate(43.33,863.64) scale(0.8600,1)" font-size="31.30" fill="#000" > .8</text>
<path transform="translate(43.33,981.48) scale(0.01314,-0.01463)" d="M763,0L583,0L583,1147Q518,1085 412,1023Q306,961 222,930L222,1104Q373,1175 486,1276Q599,1377 646,1472L763,1472Z" fill="#000"/>
<text transform="translate(43.33,981.48) scale(0.8600,1)" font-size="31.30" fill="#000" > .5</text>
<path transform="translate(43.33,1099.32) scale(0.01314,-0.01463)" d="M763,0L583,0L583,1147Q518,1085 412,1023Q306,961 222,930L222,1104Q373,1175 486,1276Q599,1377 646,1472L763,1472Z" fill="#000"/>
<text transform="translate(43.33,1099.32) scale(0.8600,1)" font-size="31.30" fill="#000" > .2</text>
<path transform="translate(202.37,555) scale(0.01337,-0.01463)" d="M763,0L583,0L583,1147Q518,1085 412,1023Q306,961 222,930L222,1104Q373,1175 486,1276Q599,1377 646,1472L763,1472Z" fill="#000"/>
<text transform="translate(202.37,555) scale(0.8750,1)" font-size="31.30" fill="#000" > 6</text>
<text transform="translate(409.87,555) scale(0.8750,1)" font-size="31.30" fill="#000" >22</text>
<text transform="translate(617.37,555) scale(0.8750,1)" font-size="31.30" fill="#000" >29</text>
<text transform="translate(824.87,555) scale(0.8750,1)" font-size="31.30" fill="#000" >37</text>
<path transform="translate(197.77,1144) scale(0.01337,-0.01463)" d="M763,0L583,0L583,1147Q518,1085 412,1023Q306,961 222,930L222,1104Q373,1175 486,1276Q599,1377 646,1472L763,1472Z" fill="#000"/>
<text transform="translate(197.77,1144) scale(0.8750,1)" font-size="31.30" fill="#000" > 6</text>
<text transform="translate(406.57,1144) scale(0.8750,1)" font-size="31.30" fill="#000" >22</text>
<text transform="translate(615.37,1144) scale(0.8750,1)" font-size="31.30" fill="#000" >29</text>
<text transform="translate(824.17,1144) scale(0.8750,1)" font-size="31.30" fill="#000" >37</text>
<text transform="translate(502.74,587.9) scale(0.8327,1)" font-size="31.69" fill="#000" >DAT</text>
<text transform="translate(499.51,1176.7) scale(0.8388,1)" font-size="31.83" fill="#000" >DAT</text>
<text transform="translate(23.5,324.8) rotate(-90) scale(1.0421,1)" font-size="29.30" x="-1.67">ΦPSII</text>
<text transform="translate(23.9,919) rotate(-90) scale(1.0486,1)" font-size="29.40" x="-2.41">NPQ</text>
<text transform="translate(28.4,853.3) rotate(-90) scale(1.1414,1)" font-size="19.00" x="-1.18">(T)</text>
<text transform="translate(337.16,133.66) scale(0.9134,1)" font-size="43.80" fill="#7a5306" stroke="#7a5306" stroke-width="0.5">*</text>
<text transform="translate(355.46,133.66) scale(0.9134,1)" font-size="43.80" fill="#7a5306" stroke="#7a5306" stroke-width="0.5">*</text>
<text transform="translate(373.76,133.66) scale(0.9134,1)" font-size="43.80" fill="#7a5306" stroke="#7a5306" stroke-width="0.5">*</text>
<text transform="translate(544.55,112.36) scale(0.9198,1)" font-size="43.80" fill="#7a5306" stroke="#7a5306" stroke-width="0.5">*</text>
<text transform="translate(562.85,112.36) scale(0.9198,1)" font-size="43.80" fill="#7a5306" stroke="#7a5306" stroke-width="0.5">*</text>
<text transform="translate(581.15,112.36) scale(0.9198,1)" font-size="43.80" fill="#7a5306" stroke="#7a5306" stroke-width="0.5">*</text>
<text transform="translate(752.45,134.36) scale(0.9262,1)" font-size="43.80" fill="#7a5306" stroke="#7a5306" stroke-width="0.5">*</text>
<text transform="translate(770.75,134.36) scale(0.9262,1)" font-size="43.80" fill="#7a5306" stroke="#7a5306" stroke-width="0.5">*</text>
<text transform="translate(789.05,134.36) scale(0.9262,1)" font-size="43.80" fill="#7a5306" stroke="#7a5306" stroke-width="0.5">*</text>
<text transform="translate(200.97,454.26) scale(0.8943,1)" font-size="43.80" fill="#8c8c8c" stroke="#fff" stroke-width="2.8" stroke-linejoin="round" paint-order="stroke">*</text>
<text transform="translate(219.27,454.26) scale(0.8943,1)" font-size="43.80" fill="#8c8c8c" stroke="#fff" stroke-width="2.8" stroke-linejoin="round" paint-order="stroke">*</text>
<text transform="translate(405.12,442.69) scale(0.9323,1)" font-size="41.62" fill="#8c8c8c" stroke="#fff" stroke-width="2.8" stroke-linejoin="round" paint-order="stroke">ns</text>
<text transform="translate(607.28,453.86) scale(0.8815,1)" font-size="43.80" fill="#8c8c8c" stroke="#fff" stroke-width="2.8" stroke-linejoin="round" paint-order="stroke">*</text>
<text transform="translate(625.58,453.86) scale(0.8815,1)" font-size="43.80" fill="#8c8c8c" stroke="#fff" stroke-width="2.8" stroke-linejoin="round" paint-order="stroke">*</text>
<text transform="translate(643.88,453.86) scale(0.8815,1)" font-size="43.80" fill="#8c8c8c" stroke="#fff" stroke-width="2.8" stroke-linejoin="round" paint-order="stroke">*</text>
<text transform="translate(823.97,508.46) scale(0.8943,1)" font-size="43.80" fill="#8c8c8c" stroke="#fff" stroke-width="2.8" stroke-linejoin="round" paint-order="stroke">*</text>
<text transform="translate(842.27,508.46) scale(0.8943,1)" font-size="43.80" fill="#8c8c8c" stroke="#fff" stroke-width="2.8" stroke-linejoin="round" paint-order="stroke">*</text>
<text transform="translate(333.17,699.66) scale(0.8879,1)" font-size="43.80" fill="#7a5306" stroke="#7a5306" stroke-width="0.5">*</text>
<text transform="translate(351.47,699.66) scale(0.8879,1)" font-size="43.80" fill="#7a5306" stroke="#7a5306" stroke-width="0.5">*</text>
<text transform="translate(369.77,699.66) scale(0.8879,1)" font-size="43.80" fill="#7a5306" stroke="#7a5306" stroke-width="0.5">*</text>
<text transform="translate(560.66,692.16) scale(0.9071,1)" font-size="43.80" fill="#7a5306" stroke="#7a5306" stroke-width="0.5">*</text>
<text transform="translate(756.51,707.28) scale(0.9056,1)" font-size="43.08" fill="#7a5306" >ns</text>
<text transform="translate(192.09,1092.28) scale(0.9246,1)" font-size="42.53" fill="#8c8c8c" stroke="#fff" stroke-width="2.8" stroke-linejoin="round" paint-order="stroke">ns</text>
<text transform="translate(395.65,1099.96) scale(0.9198,1)" font-size="43.80" fill="#8c8c8c" stroke="#fff" stroke-width="2.8" stroke-linejoin="round" paint-order="stroke">*</text>
<text transform="translate(413.95,1099.96) scale(0.9198,1)" font-size="43.80" fill="#8c8c8c" stroke="#fff" stroke-width="2.8" stroke-linejoin="round" paint-order="stroke">*</text>
<text transform="translate(432.25,1099.96) scale(0.9198,1)" font-size="43.80" fill="#8c8c8c" stroke="#fff" stroke-width="2.8" stroke-linejoin="round" paint-order="stroke">*</text>
<text transform="translate(604.86,1084.26) scale(0.9071,1)" font-size="43.80" fill="#8c8c8c" stroke="#fff" stroke-width="2.8" stroke-linejoin="round" paint-order="stroke">*</text>
<text transform="translate(623.16,1084.26) scale(0.9071,1)" font-size="43.80" fill="#8c8c8c" stroke="#fff" stroke-width="2.8" stroke-linejoin="round" paint-order="stroke">*</text>
<text transform="translate(641.46,1084.26) scale(0.9071,1)" font-size="43.80" fill="#8c8c8c" stroke="#fff" stroke-width="2.8" stroke-linejoin="round" paint-order="stroke">*</text>
<text transform="translate(832.69,1103.86) scale(0.8687,1)" font-size="43.80" fill="#8c8c8c" stroke="#fff" stroke-width="2.8" stroke-linejoin="round" paint-order="stroke">*</text>
</svg>
</body></html>
